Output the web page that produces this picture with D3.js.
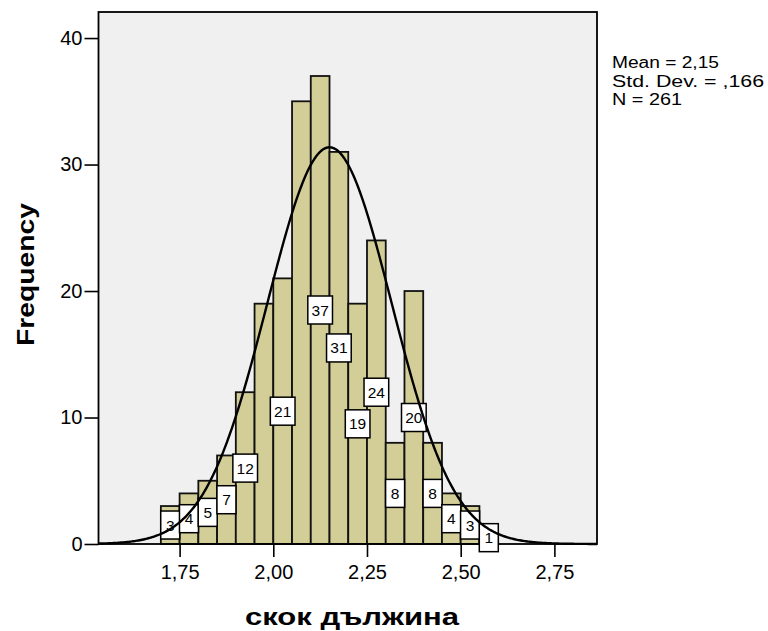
<!DOCTYPE html>
<html>
<head>
<meta charset="utf-8">
<script src="https://cdn.jsdelivr.net/npm/d3@7"></script>
<style>
  html, body { margin: 0; padding: 0; background: #ffffff; }
  svg { display: block; }
  text { font-family: "Liberation Sans", Arial, sans-serif; fill: #000; }
</style>
</head>
<body>
<svg id="chart" width="768" height="631"></svg>
<script>
// ---- data ----
const binStarts = [1.70, 1.75, 1.80, 1.85, 1.90, 1.95, 2.00, 2.05, 2.10, 2.15, 2.20, 2.25, 2.30, 2.35, 2.40, 2.45, 2.50, 2.55];
const frequencies = [3, 4, 5, 7, 12, 19, 21, 35, 37, 31, 19, 24, 8, 20, 8, 4, 3, 1];
const binWidth = 0.05;
const xTickValues = [1.75, 2.00, 2.25, 2.50, 2.75];
const yTickValues = [0, 10, 20, 30, 40];
const statMean = 2.15;
const statSd = 0.166;
const statN = 261;
const statsLines = ["Mean = 2,15", "Std. Dev. = ,166", "N = 261"];
const xTitle = "скок дължина";
const yTitle = "Frequency";

// ---- layout ----
const svg = d3.select("#chart");
const plot = { left: 98.5, right: 597, top: 12, bottom: 544 };

const x = d3.scaleLinear().domain([1.5336, 2.8637]).range([plot.left, plot.right]);
const y = d3.scaleLinear().domain([0, 42.06]).range([plot.bottom, plot.top]);

const commaFmt = v => d3.format(".2f")(v).replace(".", ",");

// plot background
svg.append("rect")
  .attr("x", plot.left).attr("y", plot.top)
  .attr("width", plot.right - plot.left).attr("height", plot.bottom - plot.top)
  .attr("fill", "#f0f0f0");

// bars
svg.append("g").selectAll("rect")
  .data(frequencies)
  .join("rect")
  .attr("x", (d, i) => x(binStarts[i]))
  .attr("width", (d, i) => x(binStarts[i] + binWidth) - x(binStarts[i]))
  .attr("y", d => y(d))
  .attr("height", d => y(0) - y(d))
  .attr("fill", "#d3ce97")
  .attr("stroke", "#111")
  .attr("stroke-width", 1.8);

// frame
svg.append("rect")
  .attr("x", plot.left).attr("y", plot.top)
  .attr("width", plot.right - plot.left).attr("height", plot.bottom - plot.top)
  .attr("fill", "none").attr("stroke", "#000").attr("stroke-width", 1.8);

// axes
const yAxis = d3.axisLeft(y).tickValues(yTickValues).tickSize(14).tickPadding(2).tickFormat(d3.format("d"));
const gy = svg.append("g").attr("transform", `translate(${plot.left},0)`).call(yAxis);
gy.select(".domain").remove();
gy.selectAll("line").attr("stroke", "#000").attr("stroke-width", 1.6);
gy.selectAll("text").attr("font-size", 20).attr("font-family", "Liberation Sans, Arial, sans-serif");

const xAxis = d3.axisBottom(x).tickValues(xTickValues).tickSize(13).tickPadding(8).tickFormat(commaFmt);
const gx = svg.append("g").attr("transform", `translate(0,${plot.bottom})`).call(xAxis);
gx.select(".domain").remove();
gx.selectAll("line").attr("stroke", "#000").attr("stroke-width", 1.6);
gx.selectAll("text").attr("font-size", 20).attr("font-family", "Liberation Sans, Arial, sans-serif");

// value labels (hide overlapping ones, larger values take precedence)
const labelFont = 15.5;
const labelH = 28;
const boxes = frequencies.map((d, i) => {
  const txt = String(d);
  const w = Math.max(txt.length * 15 * 0.556 + 8, 19);
  const cx = x(binStarts[i] + binWidth / 2);
  const cy = y(d / 2);
  return { d, i, txt, w, cx, cy };
});
const order = boxes.slice().sort((a, b) => b.d - a.d || a.i - b.i);
const shown = [];
const tol = 2;
order.forEach(b => {
  const clash = shown.some(s =>
    Math.abs(s.cx - b.cx) < (s.w + b.w) / 2 - tol &&
    Math.abs(s.cy - b.cy) < labelH - tol);
  if (!clash) shown.push(b);
});
shown.sort((a, b) => a.i - b.i);
const lg = svg.append("g").selectAll("g").data(shown).join("g")
  .attr("transform", b => `translate(${b.cx},${b.cy})`);
lg.append("rect")
  .attr("x", b => -b.w / 2).attr("y", -labelH / 2)
  .attr("width", b => b.w).attr("height", labelH)
  .attr("fill", "#fff").attr("stroke", "#000").attr("stroke-width", 1.5);
lg.append("text")
  .attr("text-anchor", "middle").attr("dominant-baseline", "central")
  .attr("font-size", labelFont)
  .text(b => b.txt);

// normal curve
const scaleFactor = statN * binWidth;
const curvePts = d3.range(0, 401).map(k => {
  const v = x.domain()[0] + (x.domain()[1] - x.domain()[0]) * k / 400;
  const dens = Math.exp(-0.5 * Math.pow((v - statMean) / statSd, 2)) / (statSd * Math.sqrt(2 * Math.PI));
  return [v, dens * scaleFactor];
});
svg.append("path")
  .datum(curvePts)
  .attr("d", d3.line().x(p => x(p[0])).y(p => y(p[1])).curve(d3.curveLinear))
  .attr("fill", "none").attr("stroke", "#000").attr("stroke-width", 2.4);

// stats text
const statWidths = [107, 152, 70];
svg.append("g").selectAll("text").data(statsLines).join("text")
  .attr("x", 612).attr("y", (d, i) => 68 + i * 18.5)
  .attr("font-size", 16)
  .attr("textLength", (d, i) => statWidths[i])
  .attr("lengthAdjust", "spacingAndGlyphs")
  .text(d => d);

// titles
svg.append("text")
  .attr("x", 352).attr("y", 625)
  .attr("text-anchor", "middle")
  .attr("font-size", 24).attr("font-weight", "bold")
  .attr("textLength", 214).attr("lengthAdjust", "spacingAndGlyphs")
  .text(xTitle);

svg.append("text")
  .attr("transform", "translate(34,274.5) rotate(-90)")
  .attr("text-anchor", "middle")
  .attr("font-size", 24).attr("font-weight", "bold")
  .attr("textLength", 143).attr("lengthAdjust", "spacingAndGlyphs")
  .text(yTitle);
</script>
</body>
</html>
